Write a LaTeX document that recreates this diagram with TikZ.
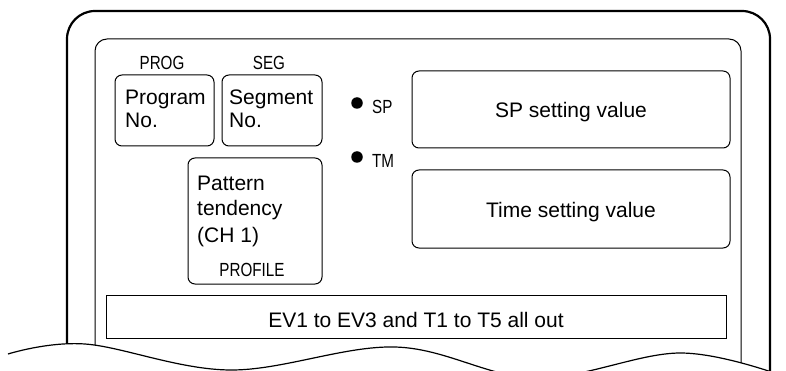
\documentclass[tikz,border=0pt]{standalone}
\usepackage{fontspec}
\setmainfont{Liberation Sans}
\newfontfamily\narrowfont[FakeStretch=0.8]{Liberation Sans}
\begin{document}
\begin{tikzpicture}[x=1pt,y=-1pt,
  maintxt/.style={font=\fontsize{21}{24}\selectfont, inner sep=0pt},
  lbl/.style={font=\narrowfont\fontsize{19}{22}\selectfont, inner sep=0pt},
  rbox/.style={draw, line width=1pt, rounded corners=7pt, inner sep=0pt},
  sbox/.style={draw, line width=1pt, inner sep=0pt},
  dot/.style={circle, fill=black, inner sep=0pt, minimum size=11.5pt}]
\useasboundingbox (0,0) rectangle (786,371);
\def\wavepts{(8,354) (85,344) (230,370) (395,347) (535,378) (680,353) (786,377)}
% frames, clipped by the wavy cut
\begin{scope}
  \clip (0,-10) -- (0,354) -- plot[smooth,tension=0.6] coordinates {\wavepts} -- (786,-10) -- cycle;
  \draw[line width=2.2pt, rounded corners=28pt] (67,420) -- (67,11) -- (770,11) -- (770,420);
  \draw[line width=1pt, rounded corners=12pt] (95,420) -- (95,39) -- (741,39) -- (741,420);
\end{scope}
\draw[line width=1.2pt] plot[smooth,tension=0.6] coordinates {\wavepts};
% boxes
\node[rbox, minimum width=99pt, minimum height=71pt] (prog) at (164.5,110.5) {};
\node[rbox, minimum width=100pt, minimum height=71pt] (seg) at (272,110.5) {};
\node[rbox, minimum width=134pt, minimum height=126pt] (pat) at (255,221) {};
\node[rbox, minimum width=318pt, minimum height=77pt] (spbox) at (571,109.5) {};
\node[rbox, minimum width=318pt, minimum height=78pt] (tmbox) at (571,209) {};
\node[sbox, minimum width=620pt, minimum height=43pt] (ev) at (416,316.5) {};
% labels
\node[lbl] (proglbl) at (162,63) {PROG};
\node[lbl] (seglbl) at (269,63) {SEG};
\node[lbl] (proflbl) at (252,269.5) {PROFILE};
\node[maintxt, anchor=base west] (p1) at (125,105) {Program};
\node[maintxt, anchor=base west] (p2) at (125,128) {No.};
\node[maintxt, anchor=base west] (s1) at (229,105) {Segment};
\node[maintxt, anchor=base west] (s2) at (229,128) {No.};
\node[maintxt, anchor=base west] (t1) at (197,191) {Pattern};
\node[maintxt, anchor=base west] (t2) at (197,216) {tendency};
\node[maintxt, anchor=base west] (t3) at (197,242) {(CH 1)};
\node[maintxt, anchor=base] (spv) at (571,118) {SP setting value};
\node[maintxt, anchor=base] (tmv) at (571,218) {Time setting value};
\node[maintxt, anchor=base] (evt) at (416,327) {EV1 to EV3 and T1 to T5 all out};
% lamps
\node[dot] (spdot) at (357,103) {};
\node[dot] (tmdot) at (357,157) {};
\node[lbl, anchor=west] (splbl) at (372,107) {SP};
\node[lbl, anchor=west] (tmlbl) at (372,161) {TM};
\end{tikzpicture}
\end{document}
